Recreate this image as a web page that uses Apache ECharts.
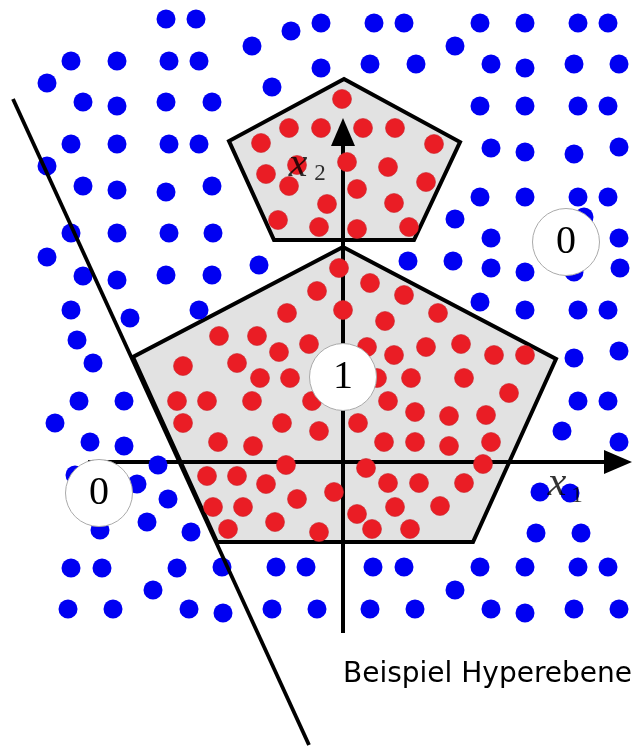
<!DOCTYPE html>
<html><head><meta charset="utf-8">
<script src="https://cdn.jsdelivr.net/npm/echarts@6/dist/echarts.min.js"></script>
<style>html,body{margin:0;padding:0;background:#fff}#c{width:638px;height:751px}</style>
</head><body><div id="c"></div><script>
// Class 0 samples (blue), diagram coordinates (x right, y down)
const bluePoints = [
[166,19],[196,19],[321,23],[374,23],[404,23],[480,23],[525,23],[578,23],[608,23],
[291,31],[252,46],[455,46],
[71,61],[117,61],[169,61],[199,61],[321,68],[370,64],[416,64],[491,64],[525,68],[574,64],[619,64],
[47,83],[272,87],[83,102],[117,106],[166,102],[212,102],[480,106],[525,106],[578,106],[608,106],
[71,144],[117,144],[169,144],[199,144],[491,148],[525,152],[574,154],[619,147],
[47,166],[83,186],[117,190],[166,192],[212,186],[480,197],[525,197],[578,197],[608,197],
[455,219],[584,217],[71,233],[117,233],[169,233],[213,233],[491,238],[619,238],
[47,257],[259,265],[408,261],[453,261],[491,268],[525,272],[574,272],[620,268],[83,276],[117,280],[166,275],[212,275],
[480,302],[525,310],[578,310],[608,310],[71,310],[130,318],[199,310],
[77,340],[93,363],[574,358],[619,351],
[79,401],[124,401],[578,401],[608,401],
[55,423],[90,442],[124,446],[562,431],[619,442],
[158,465],[137,484],[75,475],[168,499],[540,492],[570,493],
[147,522],[100,530],[191,532],[536,533],[581,533],
[71,568],[102,568],[177,568],[222,567],[276,567],[306,567],[373,567],[404,567],[480,567],[525,567],[578,567],[608,567],
[153,590],[455,590],
[68,609],[113,609],[189,609],[223,613],[272,609],[317,609],[370,609],[415,609],[491,609],[525,613],[574,609],[619,609]
];
// Class 1 samples (red)
const redPoints = [
[342,99],[289,128],[321,128],[363,128],[395,128],[261,143],[434,144],[297,165],[347,162],[388,167],
[266,174],[289,186],[426,182],[357,189],[327,204],[394,203],[278,220],[319,227],[357,229],[409,227],
[339,268],[370,283],[317,291],[404,295],[287,313],[343,310],[385,321],[438,313],
[219,336],[257,336],[309,344],[279,352],[367,347],[394,355],[426,347],[461,344],[494,355],[525,355],
[183,366],[237,363],
[260,378],[290,378],[377,378],[411,378],[464,378],
[509,393],
[177,401],[207,401],[252,401],[312,401],[388,401],
[415,412],[449,416],[486,415],
[183,423],[282,423],[358,423],[319,431],
[218,442],[253,446],[384,442],[415,442],[449,446],[491,442],
[286,465],[366,468],[483,464],
[207,476],[237,476],[266,484],[388,483],[419,483],[464,483],
[334,492],[297,499],
[213,507],[243,507],[395,507],[440,506],[357,514],
[228,529],[275,522],[319,532],[372,529],[410,529]
];
const smallPentagon = [[344,79],[460,142],[414,240],[274,240],[229,141]];
const largePentagon = [[343,247],[556,359],[473,542],[217,542],[133,357]];
const x1AxisLine = [[88,462],[610,462]];
const x2AxisLine = [[343,633],[343,128]];
const arrowTips = [[632,462,'right'],[343,118,'up']];
const hyperplane = [[13,99],[309,745]];
const regionLabels = [[566,242,'0'],[343,377,'1'],[99,493,'0']];
const axisNameLabels = [[298,165,'x',true],[320,174,'2',false],[557,484,'x',true],[577,496,'1',false]];
const captionText = 'Beispiel Hyperebene';

const pentagons = [smallPentagon, largePentagon];
const chart = echarts.init(document.getElementById('c'), null, {renderer:'canvas'});
chart.setOption({
  animation:false,
  grid:{left:0,right:0,top:0,bottom:0},
  xAxis:{type:'value',min:0,max:638,show:false},
  yAxis:{type:'value',min:0,max:751,inverse:true,show:false},
  graphic:[{type:'text',left:343,top:661,z:100,
    style:{text:captionText,font:'28px "DejaVu Sans"',fill:'#000'}}],
  series:[
    {type:'custom',z:1,clip:false,data:pentagons.map((p,i)=>[i,0]),
     renderItem:(params,api)=>({type:'polygon',
       shape:{points:pentagons[params.dataIndex].map(p=>api.coord(p))},
       style:{fill:'#e2e2e2',stroke:'#000',lineWidth:4,lineJoin:'miter'}})},
    {type:'line',z:2,data:x1AxisLine,symbol:'none',lineStyle:{color:'#000',width:4}},
    {type:'line',z:2,data:x2AxisLine,symbol:'none',lineStyle:{color:'#000',width:4}},
    {type:'custom',z:2,clip:false,data:arrowTips.map(a=>[a[0],a[1]]),
     renderItem:(params,api)=>{
       const t=api.coord([api.value(0),api.value(1)]);
       const dir=arrowTips[params.dataIndex][2];
       const pts = dir==='right'
         ? [t,[t[0]-28,t[1]-12],[t[0]-28,t[1]+12]]
         : [t,[t[0]-12,t[1]+28],[t[0]+12,t[1]+28]];
       return {type:'polygon',shape:{points:pts},style:{fill:'#000'}};
     }},
    {type:'scatter',z:3,data:bluePoints,symbolSize:19,itemStyle:{color:'#0000f2',opacity:1}},
    {type:'scatter',z:3,data:redPoints,symbolSize:19,itemStyle:{color:'#ea1d25',borderColor:'#c9252b',borderWidth:0.6,opacity:1}},
    {type:'line',z:4,data:hyperplane,symbol:'none',lineStyle:{color:'#000',width:3.8}},
    {type:'scatter',z:5,data:regionLabels.map(r=>({value:[r[0],r[1]],name:r[2]})),symbolSize:67,
     itemStyle:{color:'#fff',borderColor:'#aaa',borderWidth:1,opacity:1},
     label:{show:true,position:'inside',formatter:p=>p.name,fontFamily:'Liberation Serif',fontSize:40,color:'#000'}},
    {type:'scatter',z:6,symbolSize:0,
     data:axisNameLabels.map(a=>({value:[a[0],a[1]],name:a[2],
       label:{fontStyle:a[3]?'italic':'normal',fontSize:a[3]?42:23}})),
     label:{show:true,position:'inside',formatter:p=>p.name,fontFamily:'Liberation Serif',color:'#000'}}
  ]
});
</script></body></html>
